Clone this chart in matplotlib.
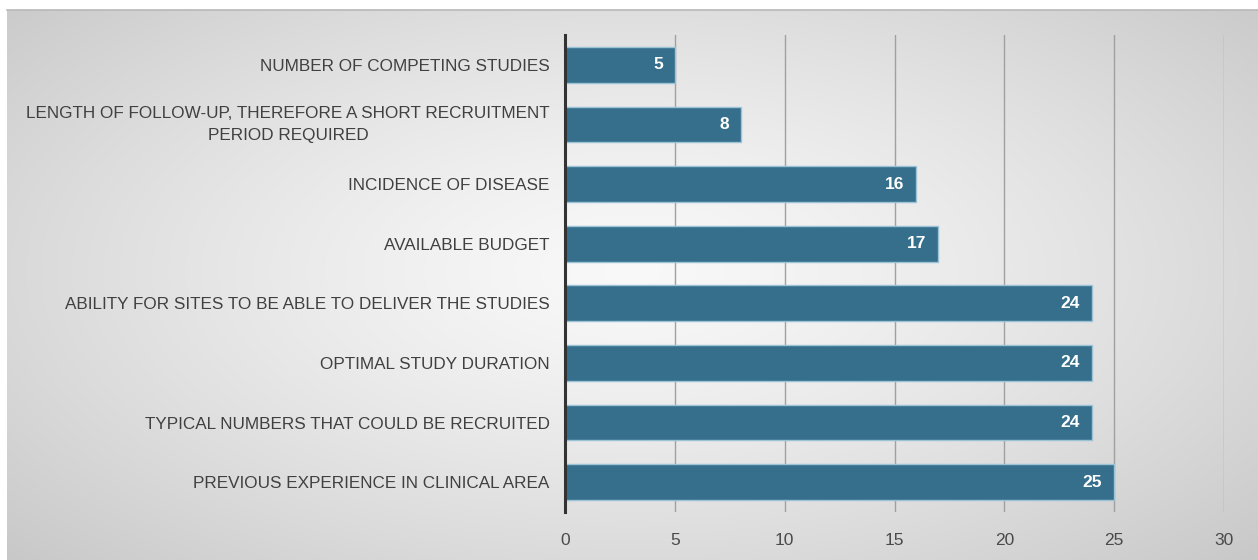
import numpy as np
import matplotlib.pyplot as plt

# factors that drive recruitment targets, scored by respondents
factors = [
    "NUMBER OF COMPETING STUDIES",
    "LENGTH OF FOLLOW-UP, THEREFORE A SHORT RECRUITMENT\nPERIOD REQUIRED",
    "INCIDENCE OF DISEASE",
    "AVAILABLE BUDGET",
    "ABILITY FOR SITES TO BE ABLE TO DELIVER THE STUDIES",
    "OPTIMAL STUDY DURATION",
    "TYPICAL NUMBERS THAT COULD BE RECRUITED",
    "PREVIOUS EXPERIENCE IN CLINICAL AREA",
]
scores = [5, 8, 16, 17, 24, 24, 24, 25]
x_ticks = [0, 5, 10, 15, 20, 25, 30]

plt.rcParams['font.family'] = ['Liberation Sans', 'DejaVu Sans']

W, H = 1258, 560
fig = plt.figure(figsize=(W / 100, H / 100), dpi=100)
fig.patch.set_facecolor("white")

# soft radial grey backdrop behind the chart
bg = fig.add_axes([7 / W, 0, 1 - 7 / W, 1 - 10 / H])
bg.set_axis_off()
gx, gy = np.meshgrid(np.linspace(-1, 1, 600), np.linspace(-1, 1, 300))
r = np.sqrt((gx / 1.0) ** 2 + ((gy + 0.05) / 1.1) ** 2)
r = r / r.max()
shade = 0.975 - 0.19 * r ** 1.3
bg.imshow(np.dstack([shade] * 3), aspect="auto", extent=[0, 1, 0, 1],
          interpolation="bilinear")
fig.add_artist(plt.Line2D([7 / W, 1], [1 - 9.5 / H] * 2, color="#b8b8b8", lw=1.2))

ax = fig.add_axes([565 / W, 48 / H, (1224 - 565) / W, (512 - 35) / H])
ax.set_facecolor("none")

y = np.arange(len(factors))
ax.barh(y, scores, height=0.6, color="#356f8c", edgecolor="#9cc2d6",
        linewidth=1.0, zorder=3)

for yi, v in zip(y, scores):
    ax.text(v - 0.55, yi, str(v), ha="right", va="center", color="white",
            fontsize=12.5, fontweight="bold", zorder=4)

ax.set_ylim(len(factors) - 0.5, -0.5)
ax.set_xlim(0, 30)
ax.set_xticks(x_ticks)
ax.set_yticks(y)
ax.set_yticklabels(factors, fontsize=12.3, color="#404040",
                   multialignment="center", linespacing=1.65)
# two-line label sits centred on its bar
for lbl in ax.get_yticklabels():
    if "\n" in lbl.get_text():
        lbl.set_va("center")
ax.tick_params(axis="y", length=0, pad=11)
ax.tick_params(axis="x", length=0, pad=15, labelsize=12.5, labelcolor="#4a4a4a")

ax.grid(axis="x", color="#a0a0a0", linewidth=1.0, zorder=1)
for s in ["top", "right", "bottom"]:
    ax.spines[s].set_visible(False)
ax.spines["left"].set_color("#333333")
ax.spines["left"].set_linewidth(2.2)
ax.spines["left"].set_zorder(5)

fig.savefig("out.png", dpi=100)
